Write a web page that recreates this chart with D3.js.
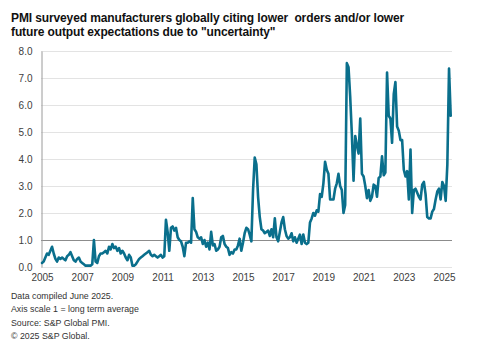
<!DOCTYPE html>
<html>
<head>
<meta charset="utf-8">
<script src="https://cdn.jsdelivr.net/npm/d3@7"></script>
<style>
  html, body { margin: 0; padding: 0; background: #fff; }
  svg { display: block; font-family: "Liberation Sans", Arial, sans-serif; }
</style>
</head>
<body>
<svg id="chart" width="484" height="359"></svg>
<script>
// ---- data (monthly, Jan 2005 – May 2025) ----
const startYear = 2005;
const v2005 = [0.15,0.2,0.35,0.5,0.45,0.6,0.75,0.5,0.3,0.2,0.35,0.3];
const v2006 = [0.35,0.3,0.25,0.4,0.45,0.55,0.4,0.25,0.2,0.3,0.35,0.2];
const v2007 = [0.15,0.1,0.05,0.05,0.05,0.05,0.1,1.0,0.2,0.15,0.4,0.5];
const v2008 = [0.5,0.55,0.6,0.5,0.75,0.65,0.85,0.7,0.75,0.6,0.7,0.5];
const v2009 = [0.6,0.5,0.35,0.25,0.45,0.35,0.05,0.05,0.1,0.2,0.3,0.35];
const v2010 = [0.4,0.45,0.5,0.55,0.6,0.45,0.4,0.45,0.4,0.35,0.4,0.45];
const v2011 = [0.35,0.4,1.75,1.3,0.6,1.45,1.5,1.35,1.45,1.1,1.0,0.95];
const v2012 = [0.75,0.4,0.9,0.9,0.95,0.9,2.55,1.4,1.3,1.1,1.05,1.1];
const v2013 = [0.85,1.0,0.75,0.9,0.65,1.3,0.8,0.85,0.6,0.65,0.75,1.1];
const v2014 = [1.15,0.85,0.75,0.7,0.45,0.55,0.5,0.65,0.65,0.8,1.05,0.6];
const v2015 = [0.9,1.25,1.45,1.4,1.2,0.95,2.85,4.05,3.8,2.6,1.85,1.4];
const v2016 = [1.35,1.25,1.3,1.35,1.15,1.4,1.1,1.8,1.1,0.95,1.3,1.65];
const v2017 = [1.85,1.4,1.15,1.05,1.1,1.25,0.95,1.1,0.9,1.05,1.2,0.85];
const v2018 = [1.2,0.9,0.85,0.9,1.65,1.8,2.0,1.9,2.1,2.05,2.7,2.6];
const v2019 = [3.1,3.9,3.6,3.45,2.5,2.5,2.5,2.9,3.1,3.45,3.0,2.85];
const v2020 = [2.0,2.3,7.55,7.4,6.3,4.9,3.2,4.85,4.5,4.2,5.5,3.45];
const v2021 = [3.35,3.0,2.55,2.85,2.45,2.6,3.05,3.0,2.6,3.3,3.35,4.1];
const v2022 = [3.4,3.5,7.2,5.6,5.5,4.6,6.4,6.85,5.2,5.05,4.7,4.7];
const v2023 = [3.6,3.35,3.55,2.5,4.35,2.0,2.85,2.9,2.75,2.6,2.5,3.05];
const v2024 = [3.15,2.7,1.85,1.8,1.8,2.05,2.15,2.5,2.8,2.9,2.5,3.15];
const v2025 = [3.0,2.45,3.8,7.35,5.6];

const xTickYears = [2005,2007,2009,2011,2013,2015,2017,2019,2021,2023,2025];
const yTickValues = [0,1,2,3,4,5,6,7,8];
const averageLevel = [1];

const titleLines = [
  "PMI surveyed manufacturers globally citing lower  orders and/or lower",
  "future output expectations due to \"uncertainty\""
];
const footnotes = [
  "Data compiled June 2025.",
  "Axis scale 1 = long term average",
  "Source: S&P Global PMI.",
  "\u00A9 2025 S&P Global."
];

// ---- build series ----
const allYears = [v2005,v2006,v2007,v2008,v2009,v2010,v2011,v2012,v2013,v2014,v2015,
                  v2016,v2017,v2018,v2019,v2020,v2021,v2022,v2023,v2024,v2025];
const series = [];
allYears.forEach((arr, yi) => arr.forEach((v, m) => series.push({t: startYear + yi + m / 12, v})));

// ---- layout ----
const svg = d3.select("#chart");
const plotLeft = 41, plotRight = 452;
const x = d3.scaleLinear().domain([2005, 2025]).range([42, 444]);
const y = d3.scaleLinear().domain([0, 8]).range([267, 51]);

// title
svg.append("g").selectAll("text").data(titleLines).join("text")
  .attr("x", 11).attr("y", (d, i) => 21.5 + i * 14)
  .attr("font-size", 12).attr("font-weight", "bold").attr("fill", "#111")
  .attr("letter-spacing", -0.12)
  .style("white-space", "pre")
  .text(d => d);

// gridlines
svg.append("g").selectAll("line").data(yTickValues).join("line")
  .attr("x1", plotLeft).attr("x2", plotRight)
  .attr("y1", d => y(d) + 0.5).attr("y2", d => y(d) + 0.5)
  .attr("stroke", "#e3e3e3").attr("stroke-width", 1);

// long term average line
svg.append("g").selectAll("line").data(averageLevel).join("line")
  .attr("x1", plotLeft).attr("x2", plotRight)
  .attr("y1", d => y(d) + 0.5).attr("y2", d => y(d) + 0.5)
  .attr("stroke", "#8c8c8c").attr("stroke-width", 1);

// y axis
const yAxis = svg.append("g").attr("transform", `translate(${plotLeft + 0.5},0)`)
  .call(d3.axisLeft(y).tickValues(yTickValues).tickFormat(d3.format(".1f")).tickSize(0).tickPadding(9));
yAxis.select(".domain").attr("stroke", "#9a9a9a");
yAxis.selectAll("text").attr("font-size", 10).attr("fill", "#404040")
  .attr("font-family", "Liberation Sans, Arial, sans-serif");

// x axis
const xAxis = svg.append("g").attr("transform", `translate(0,${y(0)})`)
  .call(d3.axisBottom(x).tickValues(xTickYears).tickFormat(d3.format("d")).tickSize(0).tickPadding(7));
xAxis.select(".domain").remove();
xAxis.selectAll("text").attr("font-size", 10).attr("fill", "#404040")
  .attr("font-family", "Liberation Sans, Arial, sans-serif");

// line
const line = d3.line().x(d => x(d.t)).y(d => y(d.v)).curve(d3.curveLinear);
svg.append("path").datum(series)
  .attr("d", line).attr("fill", "none")
  .attr("stroke", "#0a6f8c").attr("stroke-width", 2.6)
  .attr("stroke-linejoin", "round").attr("stroke-linecap", "round");

// footnotes
svg.append("g").selectAll("text").data(footnotes).join("text")
  .attr("x", 11).attr("y", (d, i) => 299 + i * 13.3)
  .attr("font-size", 8.8).attr("fill", "#333")
  .text(d => d);
</script>
</body>
</html>
